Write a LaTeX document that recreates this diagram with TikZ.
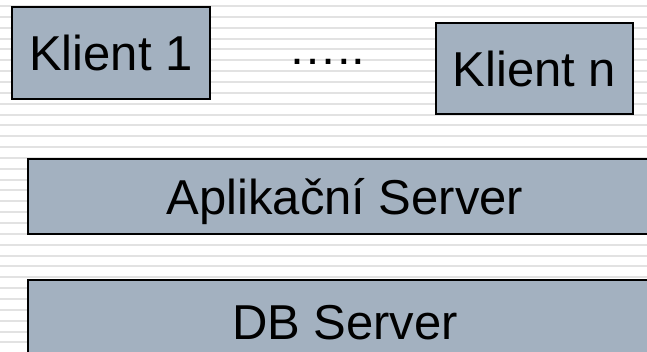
\documentclass[tikz,border=0pt]{standalone}
\usepackage{fontspec}
\setmainfont{Liberation Sans}
\usetikzlibrary{positioning}
\definecolor{tierfill}{RGB}{163,177,192}
\definecolor{stripegray}{RGB}{226,226,226}
\begin{document}
\begin{tikzpicture}[x=1pt,y=-1pt,
  tier/.style={draw=black, line width=1.8pt, fill=tierfill, inner sep=0pt,
    font=\fontsize{49}{58}\selectfont, text height=35pt, text depth=0pt},
  label/.style={inner sep=0pt, font=\fontsize{49}{58}\selectfont,
    text height=35pt, text depth=0pt}]
  \useasboundingbox (0,0) rectangle (647,351);
  \clip (0,0) rectangle (647,351);
  \fill[white] (0,0) rectangle (647,351);
  % background stripes
  \foreach \i in {0,...,31}
    \draw[stripegray, line width=2pt] (0,6+10.85*\i) -- (647,6+10.85*\i);
  % clients
  \node[tier, minimum width=198pt, minimum height=92pt] (klient1) at (111,53) {Klient 1};
  \node[tier, minimum width=197pt, minimum height=91pt] (klientn) at (534.5,68.5) {Klient n};
  \node[label] (dots) at (327,46.5) {\char"2026..};
  % server tiers
  \node[tier, line width=1.5pt, minimum width=634pt, minimum height=75pt] (app) at (345,196.5) {Aplika\v{c}n\'i Server};
  \node[tier, line width=1.5pt, minimum width=634pt, minimum height=84pt] (db) at (345,322) {DB Server};
\end{tikzpicture}
\end{document}
